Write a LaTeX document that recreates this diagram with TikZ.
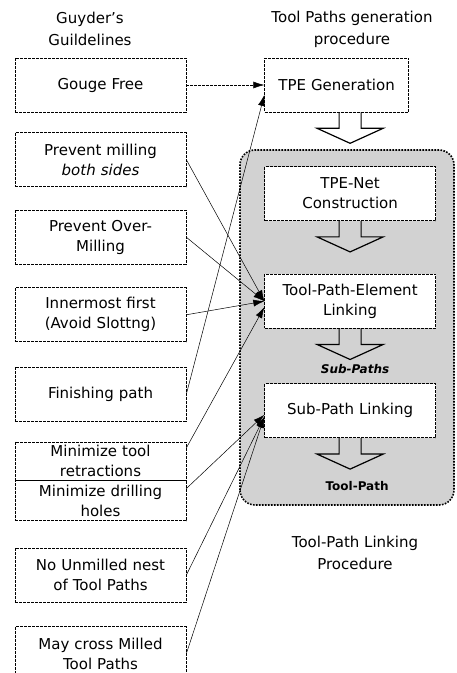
\documentclass[tikz,border=0pt]{standalone}
\usepackage{fontspec}
\setmainfont{DejaVu Sans}
\usetikzlibrary{arrows.meta,positioning,calc}
\definecolor{Shade}{HTML}{D2D2D2}

\begin{document}
\begin{tikzpicture}[x=1pt,y=1pt,
  rule/.style={draw,dash pattern=on 3pt off 1pt,line width=0.6pt,rectangle,fill=white,
    font=\fontsize{15}{20}\selectfont,text width=166pt,minimum width=171pt,
    minimum height=54pt,align=center,inner sep=0pt},
  head/.style={font=\fontsize{15}{22}\selectfont,align=center},
  tag/.style={font=\bfseries\fontsize{12}{14}\selectfont},
  region/.style={draw,fill=Shade,line width=1.6pt,dash pattern=on 1.6pt off 1.4pt,rounded corners=15pt},
  arr/.style={-{Latex[length=11pt,width=7pt]},line width=0.5pt},
  fat/.pic={\draw[line width=1.2pt,line join=miter](-11,0)--(-11,-16)--(-33,-16)--(0,-31)--(33,-16)--(11,-16)--(11,0);}
]
\useasboundingbox (0,0) rectangle (456,673);
\draw[region](240,168) rectangle (454,523);
\node[head](hl) at (90,644){Guyder's\\Guildelines};
\node[head](hr) at (352,644){Tool Paths generation\\procedure};
\node[rule](b1) at (100.5,588){Gouge Free};
\node[rule,below=20pt of b1](b2){Prevent milling\\\textit{both sides}};
\node[rule,below=23pt of b2](b3){Prevent Over-\\Milling};
\node[rule,below=23pt of b3](b4){Innermost first\\(Avoid Slottng)};
\node[rule,below=25pt of b4](b5){Finishing path};
\node[rule,below=20pt of b5,minimum height=38pt](b6){Minimize tool\\retractions};
\node[rule,below=0pt of b6,minimum height=40pt](b7){Minimize drilling\\holes};
\node[rule,below=27pt of b7](b8){No Unmilled nest\\of Tool Paths};
\node[rule,below=24pt of b8](b9){May cross Milled\\Tool Paths};
\node[rule,right=78pt of b1,minimum width=144pt,text width=140pt](gen){TPE Generation};
\node[rule,anchor=north west](net) at ([yshift=-54pt]gen.south west){TPE-Net\\Construction};
\node[rule,below=53pt of net](lnk){Tool-Path-Element\\Linking};
\node[rule,below=55pt of lnk](sub){Sub-Path Linking};
\pic at (net.north |- gen.south){fat};
\pic at (net.south){fat};
\pic at (lnk.south){fat};
\pic at (sub.south){fat};
\node[tag](sp) at ($(lnk.south)+(5,-41)$){\textit{Sub-Paths}};
\node[tag](tp) at ($(sub.south)+(7,-48)$){Tool-Path};
\node[head](ttl) at (355,120){Tool-Path Linking\\Procedure};
\draw[arr,dash pattern=on 3pt off 1pt](b1)--(gen);
\draw[arr](b5.east)--([yshift=-10pt]gen.west);
\draw[arr](b2.east)--(lnk.west);\draw[arr](b3.east)--(lnk.west);
\draw[arr](b4.east)--(lnk.west);\draw[arr]([yshift=13pt]b6.east)--([yshift=-6pt]lnk.west);
\draw[arr]([yshift=12pt]b7.east)--([yshift=-4pt]sub.west);
\draw[arr](b8.east)--([yshift=-6pt]sub.west);\draw[arr](b9.east)--([yshift=-6pt]sub.west);
\end{tikzpicture}
\end{document}
